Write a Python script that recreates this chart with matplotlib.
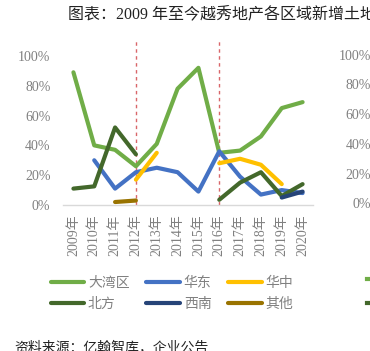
import numpy as np
import matplotlib
matplotlib.use("Agg")
import matplotlib.pyplot as plt
from matplotlib.lines import Line2D

nan = np.nan
years = ["2009年", "2010年", "2011年", "2012年", "2013年", "2014年",
         "2015年", "2016年", "2017年", "2018年", "2019年", "2020年"]
gba = [0.89, 0.40, 0.37, 0.26, 0.41, 0.78, 0.92, 0.35, 0.365, 0.46, 0.65, 0.69]
east = [nan, 0.30, 0.11, 0.22, 0.25, 0.22, 0.09, 0.36, 0.19, 0.07, 0.10, 0.08]
central = [nan, nan, nan, 0.17, 0.35, nan, nan, 0.28, 0.31, 0.27, 0.14, nan]
north = [0.11, 0.125, 0.52, 0.34, nan, nan, nan, 0.035, 0.15, 0.22, 0.06, 0.14]
southwest = [nan, nan, nan, nan, nan, nan, nan, nan, nan, nan, 0.05, 0.09]
other = [nan, nan, 0.02, 0.03, nan, nan, nan, nan, nan, nan, nan, nan]
series_names = ["大湾区", "华东", "华中", "北方", "西南", "其他"]
colors = ["#70AD47", "#4472C4", "#FFC000", "#43682B", "#264478", "#997300"]
yticks = [0, 0.2, 0.4, 0.6, 0.8, 1.0]
ytick_labels = ["0%", "20%", "40%", "60%", "80%", "100%"]
title = "图表：2009 年至今越秀地产各区域新增土地储备占比"
source = "资料来源：亿翰智库，企业公告"

W, H = 370, 351
fig = plt.figure(figsize=(W / 100, H / 100), dpi=100)
fam = ["Liberation Serif", "Noto Sans CJK SC"]
gray = "#808080"

ax = fig.add_axes([63 / W, 1 - 205 / H, 250 / W, (205 - 41) / H])
x = np.arange(len(years))
for vals, c in zip([gba, east, central, north, southwest, other], colors):
    ax.plot(x, vals, color=c, lw=3, solid_capstyle="round", solid_joinstyle="round")

for xv in [3, 7]:
    ax.axvline(xv, color="#D9666A", lw=1, ls=(0, (2.5, 2.5)), zorder=0.5)

ax.set_xlim(-0.5, len(years) - 0.5)
ax.set_ylim(0, 1.1)
ax.set_yticks(yticks)
ax.set_yticklabels(ytick_labels, family=fam, fontsize=10, color=gray)
ax.set_xticks(x)
ax.set_xticklabels(years, rotation=90, family=fam, fontsize=10, color=gray)
ax.tick_params(axis="both", length=0)
ax.tick_params(axis="x", pad=7)
ax.tick_params(axis="y", pad=9)
for s in ["top", "right", "left"]:
    ax.spines[s].set_visible(False)
ax.spines["bottom"].set_color("#D9D9D9")
ax.spines["bottom"].set_linewidth(1)

handles = [Line2D([0], [0], color=c, lw=3, solid_capstyle="round") for c in colors]
order = [0, 3, 1, 4, 2, 5]
fig.legend([handles[i] for i in order], [series_names[i] for i in order],
           ncol=3, loc="upper left",
           bbox_to_anchor=(38 / W, 1 - 264 / H), frameon=False,
           prop={"family": fam, "size": 10}, labelcolor=gray,
           handlelength=2.4, handletextpad=0.3, columnspacing=1.2,
           labelspacing=0.6)

fig.text(68 / W, 1 - 14 / H, title, family=["Liberation Serif", "Noto Sans CJK SC"],
         fontsize=11.5, color="#222222", va="center", ha="left")
fig.text(14 / W, 1 - 347 / H, source, family=["Noto Sans CJK SC"],
         fontsize=10, color="#222222", va="center", ha="left")

# neighbouring chart's axis labels visible at right edge
for v, lab in zip(yticks, ytick_labels):
    ypx = 205 - v * 149
    fig.text(371 / W, 1 - ypx / H, lab, family=fam, fontsize=10, color=gray,
             ha="right", va="center")
for ypx, c in [(279, colors[0]), (303, colors[3])]:
    fig.add_artist(Line2D([367 / W, 372 / W], [1 - ypx / H, 1 - ypx / H],
                          color=c, lw=3, transform=fig.transFigure))

fig.savefig("out.png", dpi=100)
